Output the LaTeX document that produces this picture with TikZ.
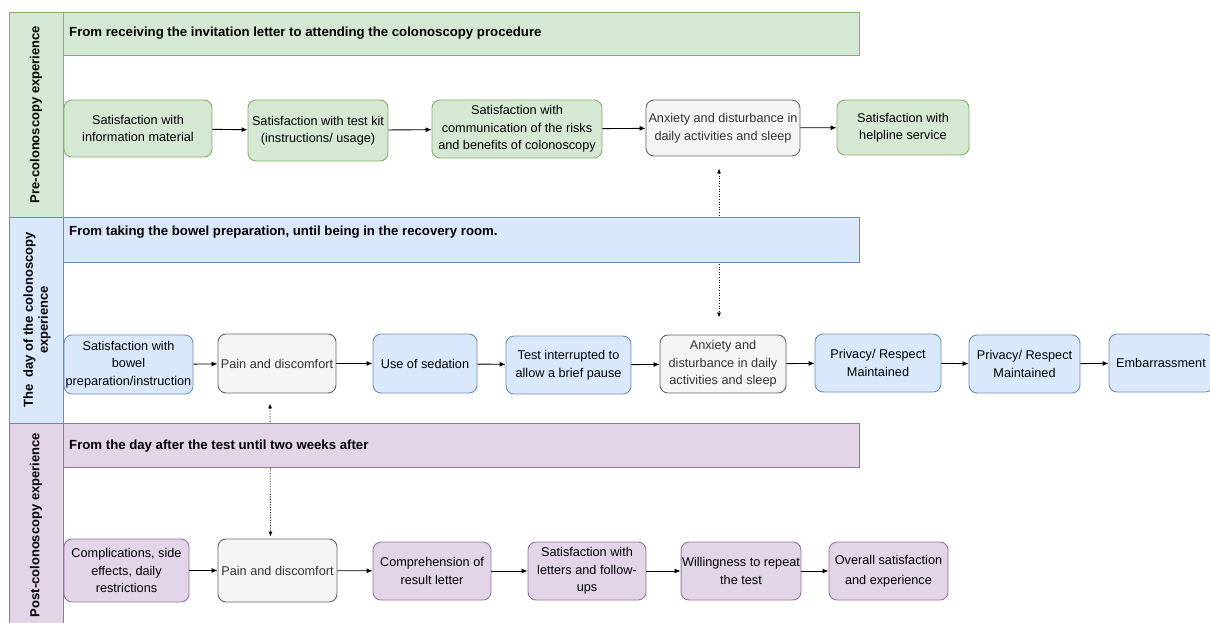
\documentclass[tikz,border=0pt]{standalone}
\usepackage{fontspec}
\setmainfont{Liberation Sans}
\usetikzlibrary{arrows.meta}
\definecolor{gfill}{HTML}{D5E8D4}\definecolor{gline}{HTML}{82B366}
\definecolor{bfill}{HTML}{DAE8FC}\definecolor{bline}{HTML}{6C8EBF}
\definecolor{pfill}{HTML}{E1D5E7}\definecolor{pline}{HTML}{9673A6}
\definecolor{yfill}{HTML}{F5F5F5}\definecolor{yline}{HTML}{666666}
\definecolor{ytext}{HTML}{333333}
\tikzset{
  boxbase/.style={rounded corners=8pt, line width=0.9pt, align=center, inner sep=1pt,
    font=\fontsize{12.7}{17.5}\selectfont},
  gbox/.style={boxbase, draw=gline, fill=gfill},
  bbox/.style={boxbase, draw=bline, fill=bfill},
  pbox/.style={boxbase, draw=pline, fill=pfill},
  ybox/.style={boxbase, draw=yline, fill=yfill, text=ytext},
  lanecol/.style={line width=0.9pt, inner sep=0pt},
  headtext/.style={anchor=west, inner sep=0pt, font=\fontsize{13.2}{15}\selectfont\bfseries},
  lanetext/.style={rotate=90, align=center, inner sep=0pt, font=\fontsize{13}{15}\selectfont\bfseries},
  flow/.style={line width=0.9pt, draw=black, -{Latex[length=6pt,width=5pt]}},
  dots/.style={line width=0.8pt, draw=black, dash pattern=on 1pt off 1.6pt,
    {Latex[length=5pt,width=4pt]}-{Latex[length=5pt,width=4pt]}},
}
\begin{document}
\begin{tikzpicture}[x=1pt,y=-1pt]
\useasboundingbox (0,0) rectangle (1210,622);
\clip (0,0) rectangle (1210,622);
% lane columns
\path[lanecol, draw=gline, fill=gfill] (9,12) rectangle (63,217);
\path[lanecol, draw=bline, fill=bfill] (9,217) rectangle (63,423);
\path[lanecol, draw=pline, fill=pfill] (9,423) rectangle (63,627);
\node[lanetext] (l1) at (36,114.5) {Pre-colonoscopy experience};
\node[lanetext] (l2) at (37,320) {The\ \ day of the colonoscopy\\experience};
\node[lanetext] (l3) at (36,525) {Post-colonoscopy experience};
% top row
\node[gbox, minimum width=148, minimum height=57] (t1) at (138,128.5) {Satisfaction with\\information material};
\node[gbox, minimum width=140, minimum height=61] (t2) at (318,130.5) {Satisfaction with test kit\\(instructions/ usage)};
\node[gbox, minimum width=170, minimum height=58] (t3) at (517,129) {Satisfaction with\\communication of the risks\\and benefits of colonoscopy};
\node[ybox, minimum width=154, minimum height=56] (t4) at (723,128) {Anxiety and disturbance in\\daily activities and sleep};
\node[gbox, minimum width=132, minimum height=55] (t5) at (903,127.5) {Satisfaction with\\helpline service};
% middle row
\node[bbox, minimum width=129, minimum height=59] (m1) at (128.5,364.5) {Satisfaction with\\bowel\\preparation/instruction};
\node[ybox, minimum width=118, minimum height=59] (m2) at (277,363.5) {Pain and discomfort};
\node[bbox, minimum width=104, minimum height=59] (m3) at (425,363.5) {Use of sedation};
\node[bbox, minimum width=125, minimum height=58] (m4) at (568.5,365) {Test interrupted to\\allow a brief pause};
\node[ybox, minimum width=126, minimum height=58] (m5) at (723,364) {Anxiety and\\disturbance in daily\\activities and sleep};
\node[bbox, minimum width=126, minimum height=58] (m6) at (878,363) {Privacy/ Respect\\Maintained};
\node[bbox, minimum width=111, minimum height=58] (m7) at (1024.5,364) {Privacy/ Respect\\Maintained};
\node[bbox, minimum width=104, minimum height=58] (m8) at (1161,363) {Embarrassment};
% bottom row
\node[pbox, minimum width=125, minimum height=63] (b1) at (126.5,570.5) {Complications, side\\effects, daily\\restrictions};
\node[ybox, minimum width=119, minimum height=63] (b2) at (277.5,570.5) {Pain and discomfort};
\node[pbox, minimum width=118, minimum height=58] (b3) at (432,571) {Comprehension of\\result letter};
\node[pbox, minimum width=118, minimum height=58] (b4) at (587,571) {Satisfaction with\\letters and follow-\\ups};
\node[pbox, minimum width=118, minimum height=58] (b5) at (741,571) {Willingness to repeat\\the test};
\node[pbox, minimum width=119, minimum height=58, font=\fontsize{12.7}{20}\selectfont] (b6) at (888.5,571) {Overall satisfaction\\and experience};
% dotted links (behind headers)
\draw[dots, shorten <=12pt, shorten >=17pt] ([xshift=-4pt]t4.south) -- ([xshift=-4pt]m5.north);
\draw[dots, shorten <=10pt, shorten >=2pt] ([xshift=-7pt]m2.south) -- ([xshift=-7pt]b2.north);
% headers
\path[lanecol, draw=gline, fill=gfill] (63,12) rectangle (859,55);
\path[lanecol, draw=bline, fill=bfill] (63,217) rectangle (859,262);
\path[lanecol, draw=pline, fill=pfill] (63,423) rectangle (859,467);
\node[headtext] (h1) at (69,33.5) {From receiving the invitation letter to attending the colonoscopy procedure};
\node[headtext] (h2) at (69,232.5) {From taking the bowel preparation, until being in the recovery room.};
\node[headtext] (h3) at (69,446) {From the day after the test until two weeks after};
% flows
\draw[flow] (t1) -- (t2);
\draw[flow] (t2) -- (t3);
\draw[flow] (t3) -- (t4);
\draw[flow] (t4) -- (t5);
\draw[flow] (m1) -- (m2);
\draw[flow] (m2) -- (m3);
\draw[flow] (m3) -- (m4);
\draw[flow] (m4) -- (m5);
\draw[flow] (m5) -- (m6);
\draw[flow] (m6) -- (m7);
\draw[flow] (m7) -- (m8);
\draw[flow] (b1) -- (b2);
\draw[flow] (b2) -- (b3);
\draw[flow] (b3) -- (b4);
\draw[flow] (b4) -- (b5);
\draw[flow] (b5) -- (b6);
\end{tikzpicture}
\end{document}
